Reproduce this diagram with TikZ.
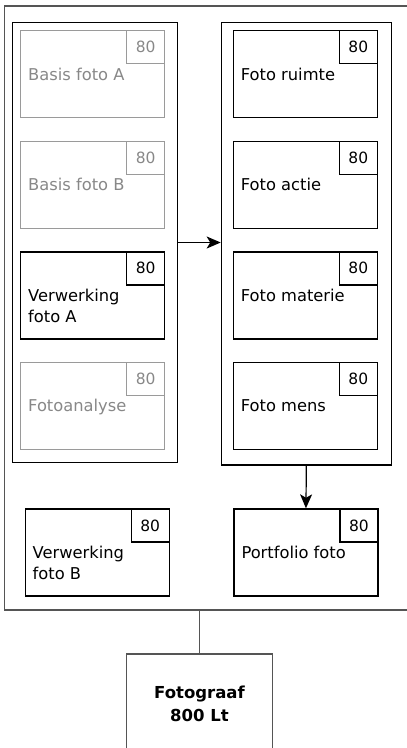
\documentclass[tikz,border=0pt]{standalone}
\usepackage{fontspec}
\setmainfont{DejaVu Sans}
\usetikzlibrary{calc,arrows.meta}
\definecolor{framegray}{HTML}{555555}
\definecolor{fadegray}{HTML}{9A9A9A}
\definecolor{fadetext}{HTML}{888888}
\tikzset{
  card/.style={draw=black, line width=1.3pt, rectangle, minimum width=144pt, minimum height=87pt, anchor=north west, inner sep=0pt},
  badge/.style={draw=black, line width=1.3pt, rectangle, minimum width=38pt, minimum height=33pt, anchor=north east, inner sep=0pt, font=\fontsize{15.5}{18}\selectfont},
  cardtext/.style={anchor=base west, align=left, inner sep=0pt, font=\fontsize{16.3}{21.3}\selectfont},
  faded/.style={draw=fadegray, text=fadetext},
  fadedtext/.style={text=fadetext},
  groupbox/.style={draw=black, line width=1.3pt, rectangle, anchor=north west, inner sep=0pt},
  conn/.style={draw=black, line width=1.2pt},
  arr/.style={conn, -{Stealth[length=14pt,width=12pt,inset=3.5pt]}},
  framebox/.style={draw=framegray, line width=1.2pt},
}
\begin{document}
\begin{tikzpicture}[x=1pt,y=-1pt]
\clip (0,0) rectangle (407,748);
% outer frame
\draw[framebox] (412,6) -- (4.5,6) -- (4.5,610) -- (412,610);
\coordinate (fb) at (199.5,610);
% groups
\node[groupbox, minimum width=165pt, minimum height=439.7pt] (g1) at (11.7,22) {};
\node[groupbox, minimum width=170pt, minimum height=442.3pt] (g2) at (220.7,22) {};
% left cards
\node[card, faded] (ba) at (20,30) {};
\node[badge, faded] (bab) at (ba.north east) {80};
\node[cardtext, fadedtext] (bat) at ($(ba.north west)+(8,50)$) {Basis foto A};
\node[card, faded] (bb) at (20,140.6) {};
\node[badge, faded] (bbb) at (bb.north east) {80};
\node[cardtext, fadedtext] (bbt) at ($(bb.north west)+(8,50)$) {Basis foto B};
\node[card] (va) at (20,251.2) {};
\node[badge] (vab) at (va.north east) {80};
\node[cardtext] (vat) at ($(va.north west)+(8,71.3)$) {Verwerking\\foto A};
\node[card, faded] (fa) at (20,361.8) {};
\node[badge, faded] (fab) at (fa.north east) {80};
\node[cardtext, fadedtext] (fat) at ($(fa.north west)+(8,50)$) {Fotoanalyse};
% right cards
\node[card] (fr) at (232.7,30) {};
\node[badge] (frb) at (fr.north east) {80};
\node[cardtext] (frt) at ($(fr.north west)+(8,50)$) {Foto ruimte};
\node[card] (fac) at (232.7,140.6) {};
\node[badge] (facb) at (fac.north east) {80};
\node[cardtext] (fact) at ($(fac.north west)+(8,50)$) {Foto actie};
\node[card] (fm) at (232.7,251.2) {};
\node[badge] (fmb) at (fm.north east) {80};
\node[cardtext] (fmt) at ($(fm.north west)+(8,50)$) {Foto materie};
\node[card] (fme) at (232.7,361.8) {};
\node[badge] (fmeb) at (fme.north east) {80};
\node[cardtext] (fmet) at ($(fme.north west)+(8,50)$) {Foto mens};
% bottom cards
\node[card] (vb) at (24.5,508.3) {};
\node[badge] (vbb) at (vb.north east) {80};
\node[cardtext] (vbt) at ($(vb.north west)+(8,71.3)$) {Verwerking\\foto B};
\node[card] (pf) at (233.3,508.3) {};
\node[badge] (pfb) at (pf.north east) {80};
\node[cardtext] (pft) at ($(pf.north west)+(8,50)$) {Portfolio foto};
% fotograaf
\node[draw=framegray, line width=1.2pt, rectangle, minimum width=145.6pt, minimum height=100pt, anchor=north, inner sep=0pt, align=center, font=\fontsize{16.5}{23}\bfseries\selectfont] (fg) at (199.5,653.3) {Fotograaf\\800 Lt};
% connectors
\draw[arr] (g1.east) -- (g1.east -| g2.west);
\draw[arr] (g2.south) -- (pf.north);
\draw[framebox] (fb) -- (fg.north);
\end{tikzpicture}
\end{document}
